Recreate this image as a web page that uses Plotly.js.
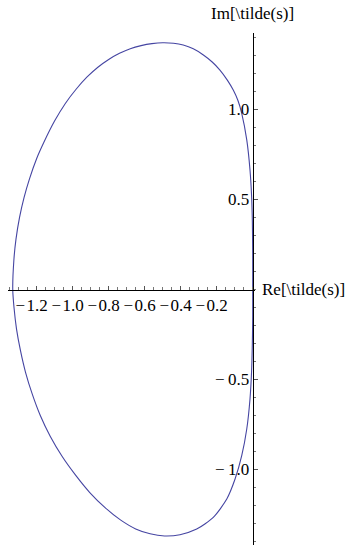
<!DOCTYPE html>
<html>
<head>
<meta charset="utf-8">
<script src="https://cdn.plot.ly/plotly-3.0.1.min.js"></script>
<style>
  html, body { margin: 0; padding: 0; background: #fff; }
  #plot { width: 350px; height: 546px; }
</style>
</head>
<body>
<div id="plot"></div>
<script>
// Closed contour of s~ in the complex plane, traced counter-clockwise
// starting at the origin on the right-hand edge.
const reS = [
  0.000, 0.000, -0.002, -0.006, -0.015, -0.033, -0.061, -0.082, -0.108, -0.140,
  -0.182, -0.225, -0.274, -0.330, -0.386, -0.440, -0.500, -0.560, -0.620, -0.680,
  -0.740, -0.800, -0.860, -0.920, -0.980, -1.040, -1.100, -1.160, -1.200, -1.240,
  -1.270, -1.295, -1.315, -1.327, -1.333,
  -1.326, -1.312, -1.290, -1.262, -1.225, -1.180, -1.125, -1.060, -0.985, -0.905,
  -0.820, -0.735, -0.650, -0.570, -0.490, -0.404, -0.311, -0.219, -0.144, -0.098,
  -0.061, -0.033, -0.015, -0.006, -0.002, 0.000, 0.000
];
const imS = [
  0.000, 0.200, 0.380, 0.516, 0.664, 0.831, 0.979, 1.050, 1.108, 1.162,
  1.219, 1.264, 1.303, 1.337, 1.358, 1.368, 1.371, 1.366, 1.355, 1.338,
  1.312, 1.278, 1.235, 1.181, 1.114, 1.035, 0.937, 0.818, 0.728, 0.615,
  0.512, 0.402, 0.280, 0.160, 0.000,
  -0.100, -0.220, -0.340, -0.460, -0.580, -0.700, -0.815, -0.925, -1.030, -1.128,
  -1.212, -1.280, -1.330, -1.357, -1.369, -1.362, -1.331, -1.266, -1.164, -1.053,
  -0.923, -0.775, -0.608, -0.450, -0.300, -0.150, 0.000
];

const xTickVals = [-1.2, -1.0, -0.8, -0.6, -0.4, -0.2];
const xTickText = ['\u2212\u200A1.2', '\u2212\u200A1.0', '\u2212\u200A0.8', '\u2212\u200A0.6', '\u2212\u200A0.4', '\u2212\u200A0.2'];
const yTickVals = [-1.0, -0.5, 0.5, 1.0];
const yTickText = ['\u2212\u20091.0', '\u2212\u20090.5', '0.5', '1.0'];

const xRange = [-1.3594, 0.0128];
const yRange = [-1.4194, 1.4250];

const serif = 'Liberation Serif, Times New Roman, serif';

const trace = {
  x: reS,
  y: imS,
  type: 'scatter',
  mode: 'lines',
  line: { color: '#4545a2', width: 1.1, shape: 'spline', smoothing: 0.7 },
  hoverinfo: 'skip'
};

const layout = {
  width: 350,
  height: 546,
  margin: { l: 8, r: 95, t: 33, b: 1, pad: 0 },
  paper_bgcolor: '#ffffff',
  plot_bgcolor: '#ffffff',
  showlegend: false,
  xaxis: {
    range: xRange,
    anchor: 'free',
    position: (0 - yRange[0]) / (yRange[1] - yRange[0]),
    showgrid: false,
    zeroline: false,
    showline: true,
    linecolor: '#000',
    linewidth: 1,
    ticks: 'inside',
    ticklen: 4,
    tickwidth: 1,
    tickcolor: '#555',
    tickvals: xTickVals,
    ticktext: xTickText,
    tickangle: 0,
    ticklabelshift: -5,
    tickfont: { family: serif, size: 17, color: '#000' },
    minor: { dtick: 0.05, tick0: 0, ticks: 'inside', ticklen: 2.5, tickcolor: '#777', showgrid: false },
    fixedrange: true
  },
  yaxis: {
    range: yRange,
    anchor: 'free',
    position: (0 - xRange[0]) / (xRange[1] - xRange[0]),
    showgrid: false,
    zeroline: false,
    showline: true,
    linecolor: '#000',
    linewidth: 1,
    ticks: 'inside',
    ticklen: 4,
    tickwidth: 1,
    tickcolor: '#555',
    tickvals: yTickVals,
    ticktext: yTickText,
    tickfont: { family: serif, size: 17, color: '#000' },
    minor: { dtick: 0.1, tick0: 0, ticks: 'inside', ticklen: 2.5, tickcolor: '#777', showgrid: false },
    fixedrange: true
  },
  annotations: [
    {
      text: 'Im[\\tilde(s)]',
      xref: 'x', yref: 'paper',
      x: 0, y: 1,
      xanchor: 'center', yanchor: 'bottom',
      yshift: 8,
      showarrow: false,
      font: { family: serif, size: 17, color: '#000' }
    },
    {
      text: 'Re[\\tilde(s)]',
      xref: 'paper', yref: 'y',
      x: 1, y: 0,
      xanchor: 'left', yanchor: 'middle',
      xshift: 5,
      showarrow: false,
      font: { family: serif, size: 17, color: '#000' }
    }
  ]
};

Plotly.newPlot('plot', [trace], layout, { displayModeBar: false, staticPlot: true });
</script>
</body>
</html>
